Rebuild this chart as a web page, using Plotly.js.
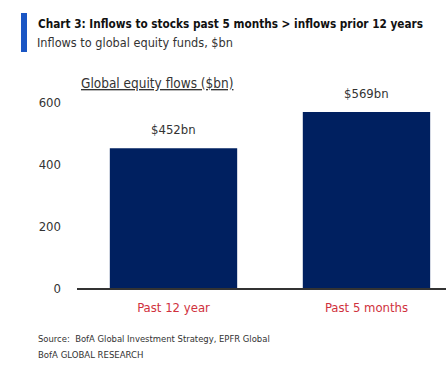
<!DOCTYPE html>
<html><head><meta charset="utf-8">
<script src="https://cdn.plot.ly/plotly-3.0.1.min.js"></script>
<style>html,body{margin:0;padding:0;background:#fff;}#c{width:446px;height:366px;}</style>
</head><body><div id="c"></div>
<script>
const categories = ["Past 12 year", "Past 5 months"];
const values = [452, 569];
const valueLabels = ["$452bn", "$569bn"];
const yTicks = [0, 200, 400, 600];

const FONT = "DejaVu Sans Condensed, sans-serif";
const PH = 218, PW = 369, PB = 288, PL = 77;
const py = px => (PB - px) / PH;
const pxx = px => (px - PL) / PW;

const trace = {
  type: "bar", x: categories, y: values, width: 0.66,
  marker: {color: "#002060"}, hoverinfo: "skip"
};
const annotations = categories.map((c, i) => ({
  x: c, y: values[i], xref: "x", yref: "y", text: valueLabels[i],
  showarrow: false, yanchor: "bottom", yshift: 9,
  font: {family: FONT, size: 13, color: "#333"}
}));
annotations.push(
  {xref: "paper", yref: "paper", x: pxx(79), y: py(83), xanchor: "left", yanchor: "middle",
   text: "<u>Global equity flows ($bn)</u>", showarrow: false, font: {family: FONT, size: 13.5, color: "#333"}},
  {xref: "paper", yref: "paper", x: pxx(36), y: py(24), xanchor: "left", yanchor: "middle", showarrow: false,
   text: "<b>Chart 3: Inflows to stocks past 5 months > inflows prior 12 years</b>",
   font: {family: FONT, size: 11.7, color: "#111"}},
  {xref: "paper", yref: "paper", x: pxx(35), y: py(42), xanchor: "left", yanchor: "middle", showarrow: false,
   text: "Inflows to global equity funds, $bn", font: {family: FONT, size: 12.6, color: "#333"}},
  {xref: "paper", yref: "paper", x: pxx(36), y: py(338), xanchor: "left", yanchor: "middle", showarrow: false,
   text: "Source:  BofA Global Investment Strategy, EPFR Global", font: {family: FONT, size: 9.4, color: "#333"}},
  {xref: "paper", yref: "paper", x: pxx(36), y: py(354), xanchor: "left", yanchor: "middle", showarrow: false,
   text: "BofA GLOBAL RESEARCH", font: {family: FONT, size: 9.5, color: "#333"}}
);
const layout = {
  width: 446, height: 366, margin: {l: PL, r: 0, t: 70, b: 78},
  paper_bgcolor: "#fff", plot_bgcolor: "#fff", showlegend: false,
  xaxis: {range: [-0.5, 1.412], showgrid: false, zeroline: false, showline: true,
    linecolor: "#333", linewidth: 1.5, ticks: "", ticklabelstandoff: 7,
    tickfont: {family: FONT, size: 13, color: "#d0313d"}, fixedrange: true},
  yaxis: {range: [0, 705], tickvals: yTicks, showgrid: false, zeroline: false, showline: false,
    ticks: "", ticklabelstandoff: 15, tickfont: {family: FONT, size: 13, color: "#333"}, fixedrange: true},
  annotations: annotations,
  shapes: [{type: "rect", xref: "paper", yref: "paper", x0: pxx(21), x1: pxx(27), y0: py(52), y1: py(13),
    fillcolor: "#1a56c4", line: {width: 0}}]
};
Plotly.newPlot("c", [trace], layout, {displayModeBar: false, staticPlot: true});
</script></body></html>
